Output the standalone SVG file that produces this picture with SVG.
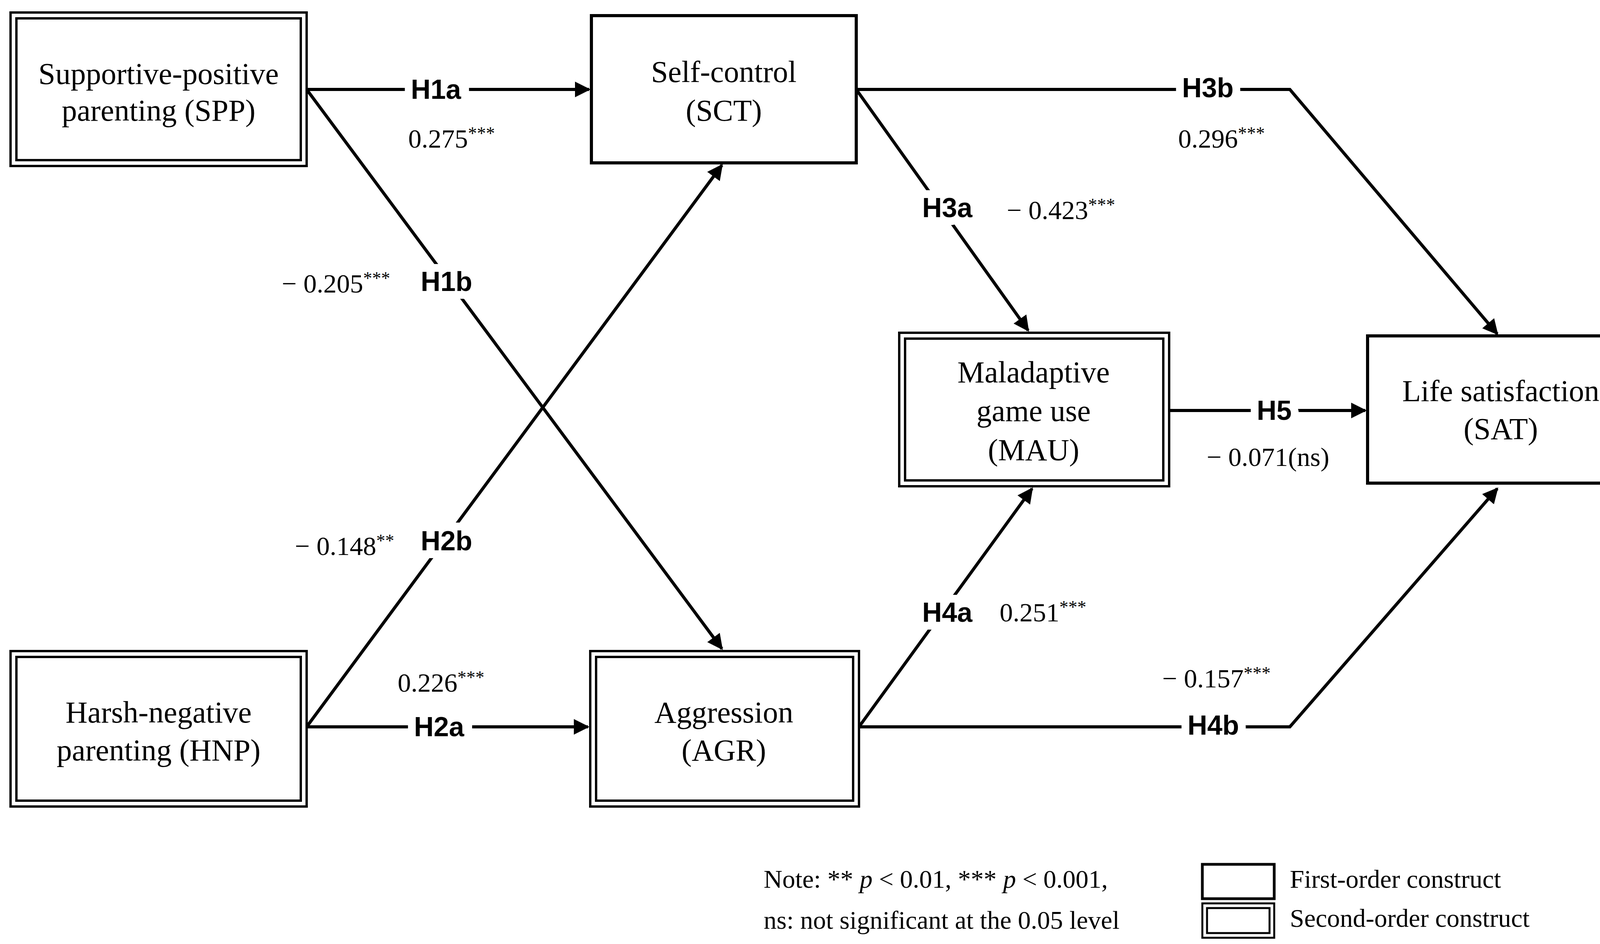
<svg xmlns="http://www.w3.org/2000/svg" width="4217" height="2417" viewBox="0 0 4217 2417">
<defs>
<marker id="ah" viewBox="0 0 10 10" refX="9" refY="5" markerWidth="5" markerHeight="5" orient="auto" markerUnits="strokeWidth"><path d="M0,0 L10,5 L0,10 Z" fill="#000"/></marker>
</defs>
<style>
.b{fill:#fff;stroke:#000;stroke-width:8}
.d{fill:none;stroke:#000;stroke-width:6}
.n{font-family:"Liberation Serif",serif;font-size:78px;text-anchor:middle;dominant-baseline:central}
.c{fill:none;stroke:#000;stroke-width:8}
.h{font-family:"Liberation Sans",Arial,sans-serif;font-weight:bold;font-size:70px;text-anchor:middle;dominant-baseline:central;stroke:#fff;stroke-width:40;paint-order:stroke}
.v{font-family:"Liberation Serif",serif;font-size:68px;text-anchor:middle;dominant-baseline:central}
.s{font-size:46px}
.l{font-family:"Liberation Serif",serif;font-size:66px;dominant-baseline:central}
</style>
<rect width="4217" height="2417" fill="#fff"/>
<g id="connectors">
<path class="c" d="M785,229 L1508,229" marker-end="url(#ah)"/>
<path class="c" d="M785,229 L1848,1661" marker-end="url(#ah)"/>
<path class="c" d="M785,1861 L1848,423" marker-end="url(#ah)"/>
<path class="c" d="M785,1861 L1505,1861" marker-end="url(#ah)"/>
<path class="c" d="M2192,229 L2632,846" marker-end="url(#ah)"/>
<path class="c" d="M2192,229 L3302,229 L3833,855" marker-end="url(#ah)"/>
<path class="c" d="M2993,1051 L3495,1051" marker-end="url(#ah)"/>
<path class="c" d="M2199,1861 L2642,1251" marker-end="url(#ah)"/>
<path class="c" d="M2199,1861 L3302,1861 L3833,1251" marker-end="url(#ah)"/>
<text class="h" x="1116" y="229">H1a</text>
<text class="h" x="1143" y="721">H1b</text>
<text class="h" x="1143" y="1385">H2b</text>
<text class="h" x="1124" y="1861">H2a</text>
<text class="h" x="2425" y="532">H3a</text>
<text class="h" x="3092" y="225">H3b</text>
<text class="h" x="3262" y="1051">H5</text>
<text class="h" x="2425" y="1568">H4a</text>
<text class="h" x="3106" y="1857">H4b</text>
<text class="v" x="1156" y="355">0.275<tspan class="s" dy="-14">***</tspan></text>
<text class="v" x="860" y="726">− 0.205<tspan class="s" dy="-14">***</tspan></text>
<text class="v" x="882" y="1398">− 0.148<tspan class="s" dy="-14">**</tspan></text>
<text class="v" x="1129" y="1748">0.226<tspan class="s" dy="-14">***</tspan></text>
<text class="v" x="2716" y="538">− 0.423<tspan class="s" dy="-14">***</tspan></text>
<text class="v" x="3127" y="355">0.296<tspan class="s" dy="-14">***</tspan></text>
<text class="v" x="3246" y="1170">− 0.071(ns)</text>
<text class="v" x="2670" y="1568">0.251<tspan class="s" dy="-14">***</tspan></text>
<text class="v" x="3114" y="1737">− 0.157<tspan class="s" dy="-14">***</tspan></text>
</g>
<g id="SPP"><rect class="d" x="27" y="32" width="758" height="393"/><rect class="d" x="42" y="47" width="728" height="363"/><text class="n" x="406" y="188">Supportive-positive</text><text class="n" x="406" y="282">parenting (SPP)</text></g>
<g id="SCT"><rect class="b" x="1514" y="40" width="678" height="377"/><text class="n" x="1853" y="183">Self-control</text><text class="n" x="1853" y="282">(SCT)</text></g>
<g id="MAU"><rect class="d" x="2302" y="852" width="691" height="393"/><rect class="d" x="2317" y="867" width="661" height="363"/><text class="n" x="2646" y="952">Maladaptive</text><text class="n" x="2646" y="1051">game use</text><text class="n" x="2646" y="1151">(MAU)</text></g>
<g id="SAT"><rect class="b" x="3501" y="860" width="683" height="377"/><text class="n" x="3842" y="1000">Life satisfaction</text><text class="n" x="3842" y="1097">(SAT)</text></g>
<g id="HNP"><rect class="d" x="27" y="1667" width="758" height="398"/><rect class="d" x="42" y="1682" width="728" height="368"/><text class="n" x="406" y="1823">Harsh-negative</text><text class="n" x="406" y="1920">parenting (HNP)</text></g>
<g id="AGR"><rect class="d" x="1511" y="1667" width="688" height="398"/><rect class="d" x="1526" y="1682" width="658" height="368"/><text class="n" x="1853" y="1823">Aggression</text><text class="n" x="1853" y="1920">(AGR)</text></g>
<g id="legend">
<text class="l" x="1955" y="2250">Note: ** <tspan font-style="italic">p</tspan> &lt; 0.01, *** <tspan font-style="italic">p</tspan> &lt; 0.001,</text>
<text class="l" x="1955" y="2355">ns: not significant at the 0.05 level</text>
<rect x="3078" y="2213" width="184" height="88" fill="none" stroke="#000" stroke-width="7"/>
<rect x="3078" y="2313" width="184" height="88" fill="none" stroke="#000" stroke-width="5"/>
<rect x="3090" y="2325" width="160" height="64" fill="none" stroke="#000" stroke-width="5"/>
<text class="l" x="3302" y="2250">First-order construct</text>
<text class="l" x="3302" y="2350">Second-order construct</text>
</g>
</svg>
